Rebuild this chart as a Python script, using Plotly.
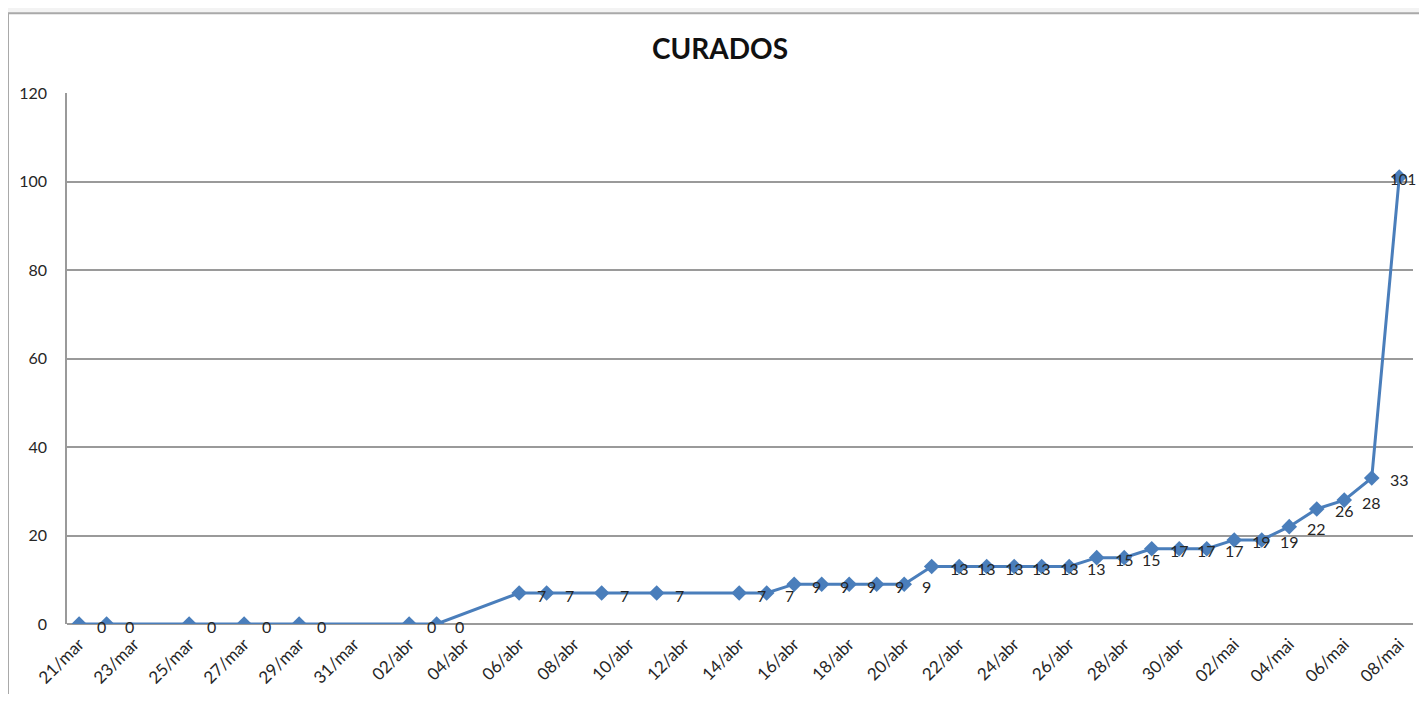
import plotly.graph_objects as go
from datetime import datetime, timedelta

# ---- data ----
dates = [
    "2020-03-21", "2020-03-22", "2020-03-25", "2020-03-27", "2020-03-29",
    "2020-04-02", "2020-04-03", "2020-04-06", "2020-04-07", "2020-04-09",
    "2020-04-11", "2020-04-14", "2020-04-15", "2020-04-16", "2020-04-17",
    "2020-04-18", "2020-04-19", "2020-04-20", "2020-04-21", "2020-04-22",
    "2020-04-23", "2020-04-24", "2020-04-25", "2020-04-26", "2020-04-27",
    "2020-04-28", "2020-04-29", "2020-04-30", "2020-05-01", "2020-05-02",
    "2020-05-03", "2020-05-04", "2020-05-05", "2020-05-06", "2020-05-07",
    "2020-05-08",
]
curados = [
    0, 0, 0, 0, 0,
    0, 0, 7, 7, 7,
    7, 7, 7, 9, 9,
    9, 9, 9, 13, 13,
    13, 13, 13, 13, 15,
    15, 17, 17, 17, 19,
    19, 22, 26, 28, 33,
    101,
]
tick_dates = [
    "2020-03-21", "2020-03-23", "2020-03-25", "2020-03-27", "2020-03-29",
    "2020-03-31", "2020-04-02", "2020-04-04", "2020-04-06", "2020-04-08",
    "2020-04-10", "2020-04-12", "2020-04-14", "2020-04-16", "2020-04-18",
    "2020-04-20", "2020-04-22", "2020-04-24", "2020-04-26", "2020-04-28",
    "2020-04-30", "2020-05-02", "2020-05-04", "2020-05-06", "2020-05-08",
]
tick_labels = [
    "21/mar", "23/mar", "25/mar", "27/mar", "29/mar",
    "31/mar", "02/abr", "04/abr", "06/abr", "08/abr",
    "10/abr", "12/abr", "14/abr", "16/abr", "18/abr",
    "20/abr", "22/abr", "24/abr", "26/abr", "28/abr",
    "30/abr", "02/mai", "04/mai", "06/mai", "08/mai",
]
title_text = "CURADOS"

# ---- style ----
FONT = "Lato"
BLUE = "#4a7ebb"
GRID = "#9a9a9a"
TXT = "#262626"
# the page body adds an 8px margin, so the figure sits at (8, 8)
W, H = 1411, 686
L, R, T, B = 59, 6, 85, 68

x_start = datetime(2020, 3, 21) - timedelta(days=0.44)
x_end = datetime(2020, 5, 8) + timedelta(days=0.5)

fig = go.Figure()
fig.add_trace(go.Scatter(
    x=dates, y=curados, mode="lines+markers",
    line=dict(color=BLUE, width=3),
    marker=dict(symbol="diamond", size=12, color=BLUE),
    hoverinfo="x+y", showlegend=False,
))

annotations = []
n = len(dates)
for i, (d, v) in enumerate(zip(dates, curados)):
    last = (i == n - 1)
    annotations.append(dict(
        x=d, y=v, xref="x", yref="y", text=str(v), showarrow=False,
        xanchor=("right" if last else "left"), yanchor="middle",
        xshift=(19 if last else 16), yshift=-2,
        font=dict(family=FONT, size=(15 if last else 16), color=TXT),
    ))

pw = W - L - R
ph = H - T - B
px = lambda p: (p - L) / pw
py = lambda p: (H - B - p) / ph

fig.update_layout(
    width=W, height=H,
    margin=dict(l=L, r=R, t=T, b=B),
    paper_bgcolor="#f3f3f3",
    plot_bgcolor="white",
    title=dict(text="<b>" + title_text + "</b>", xref="container", x=712 / W,
               yref="container", y=1 - 41 / H, xanchor="center", yanchor="middle",
               font=dict(family=FONT, size=28, color="#111111")),
    shapes=[dict(type="rect", xref="paper", yref="paper", layer="below",
                 x0=px(0), x1=px(W + 40), y0=py(H + 40), y1=py(5),
                 fillcolor="white", line=dict(color="#a9a9a9", width=2))],
    annotations=annotations,
    xaxis=dict(
        type="date", range=[x_start, x_end],
        tickmode="array", tickvals=tick_dates, ticktext=tick_labels,
        tickangle=-45, showgrid=False, zeroline=False,
        showline=False, ticks="", ticklabelstandoff=6,
        tickfont=dict(family=FONT, size=17, color=TXT),
    ),
    yaxis=dict(
        range=[0, 120], dtick=20, tick0=0,
        showgrid=True, gridcolor=GRID, gridwidth=1.6,
        zeroline=True, zerolinecolor=GRID, zerolinewidth=1.6,
        showline=True, linecolor=GRID, linewidth=1.6,
        ticks="", ticklabelstandoff=15,
        tickfont=dict(family=FONT, size=16, color=TXT),
    ),
)

fig.write_html("out.html")
